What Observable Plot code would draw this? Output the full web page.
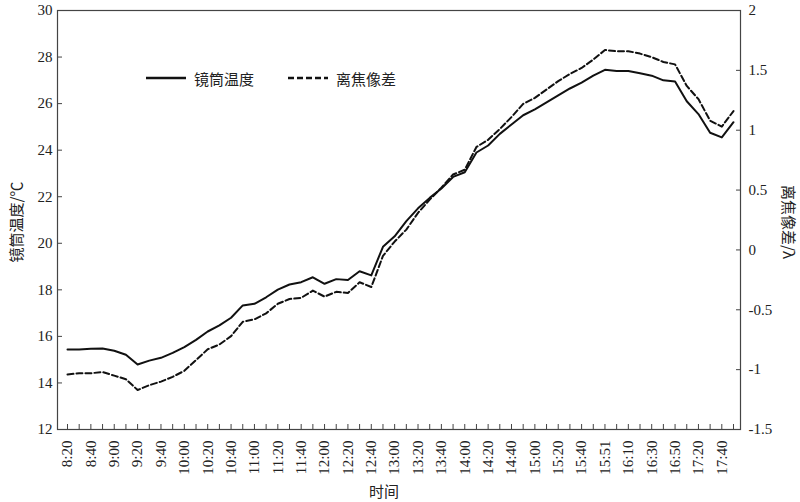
<!DOCTYPE html>
<html><head><meta charset="utf-8">
<script src="https://cdn.jsdelivr.net/npm/d3@7"></script>
<script src="https://cdn.jsdelivr.net/npm/@observablehq/plot@0.6"></script>
<style>
body{margin:0;background:#fff;}
#wrap{position:relative;width:800px;height:502px;}
.lbl{position:absolute;font-size:15px;color:#222;white-space:nowrap;font-family:"Noto Sans CJK SC","Liberation Serif",serif;line-height:1;}
.leg{position:absolute;display:flex;align-items:center;font-size:15px;color:#222;font-family:"Noto Sans CJK SC","Liberation Serif",serif;white-space:nowrap;}
.leg svg{margin-right:8px;}
</style></head><body><div id="wrap"></div>
<script>
const times = ["8:20","8:30","8:40","8:50","9:00","9:10","9:20","9:30","9:40","9:50",
  "10:00","10:10","10:20","10:30","10:40","10:50","11:00","11:10","11:20","11:30",
  "11:40","11:50","12:00","12:10","12:20","12:30","12:40","12:50","13:00","13:10",
  "13:20","13:30","13:40","13:50","14:00","14:10","14:20","14:30","14:40","14:50",
  "15:00","15:10","15:20","15:30","15:40","15:45","15:51","16:00","16:10","16:20",
  "16:30","16:40","16:50","17:05","17:20","17:30","17:40","17:50"];
const barrelTemp = [15.44,15.44,15.47,15.48,15.38,15.21,14.79,14.96,15.08,15.29,
  15.54,15.85,16.21,16.47,16.80,17.33,17.40,17.68,18.01,18.23,
  18.33,18.54,18.26,18.46,18.42,18.80,18.62,19.85,20.30,20.95,
  21.50,21.95,22.35,22.85,23.05,23.90,24.20,24.70,25.10,25.50,
  25.75,26.05,26.35,26.65,26.90,27.20,27.45,27.40,27.40,27.30,
  27.20,27.00,26.95,26.10,25.55,24.75,24.55,25.20];
const defocus = [-1.04,-1.03,-1.03,-1.02,-1.05,-1.08,-1.17,-1.13,-1.10,-1.06,
  -1.01,-0.92,-0.83,-0.79,-0.72,-0.60,-0.58,-0.53,-0.45,-0.41,
  -0.40,-0.34,-0.39,-0.35,-0.36,-0.27,-0.31,-0.05,0.07,0.17,
  0.31,0.42,0.52,0.63,0.67,0.86,0.92,1.01,1.11,1.22,
  1.27,1.34,1.41,1.47,1.52,1.59,1.67,1.66,1.66,1.64,
  1.61,1.57,1.55,1.37,1.26,1.08,1.03,1.16];
const tempTicks = [12,14,16,18,20,22,24,26,28,30];
const defocusTicks = [-1.5,-1,-0.5,0,0.5,1,1.5,2];
const tempDomain = [12,30];
const defocusDomain = [-1.5,2];
const seriesNames = ["镜筒温度","离焦像差"];
const xTitle = "时间";
const yLeftTitle = "镜筒温度/℃";
const yRightTitle = "离焦像差/λ";

const k = (tempDomain[1]-tempDomain[0])/(defocusDomain[1]-defocusDomain[0]);
const toLeft = v => tempDomain[0] + (v - defocusDomain[0]) * k;
const fromLeft = d => Math.round(((d - tempDomain[0]) / k + defocusDomain[0]) * 100) / 100;

const idx = times.map((_, i) => i);
const rows = times.map((t, i) => ({i, temp: barrelTemp[i], defocus: toLeft(defocus[i])}));

const chart = Plot.plot({
  width: 800, height: 502,
  marginLeft: 57, marginRight: 60, marginTop: 10, marginBottom: 73,
  style: {fontFamily: "'Liberation Serif', serif", fontSize: "15px", color: "#222", background: "transparent"},
  x: {type: "linear", domain: [-0.856, 57.6]},
  y: {domain: tempDomain},
  marks: [
    Plot.axisX(idx, {tickSize: 5, dy: -5, fill: "none", stroke: "#444", label: null}),
    Plot.axisX(idx.filter(i => i % 2 === 0), {tickSize: 0, tickPadding: 11, tickRotate: -90, tickFormat: i => times[i], label: null, fill: "#222"}),
    Plot.axisY(tempTicks, {anchor: "left", tickSize: 5, dx: 5, fill: "none", stroke: "#444", label: null}),
    Plot.axisY(tempTicks, {anchor: "left", tickSize: 0, tickPadding: 5, label: null, fill: "#222"}),
    Plot.axisY(defocusTicks.map(toLeft), {anchor: "right", tickSize: 5, dx: -5, fill: "none", stroke: "#444", label: null}),
    Plot.axisY(defocusTicks.map(toLeft), {anchor: "right", tickSize: 0, tickPadding: 8, tickFormat: d => String(fromLeft(d)), label: null, fill: "#222"}),
    Plot.frame({stroke: "#444", strokeWidth: 1.2}),
    Plot.line(rows, {x: "i", y: "temp", stroke: "#111", strokeWidth: 2}),
    Plot.line(rows, {x: "i", y: "defocus", stroke: "#111", strokeWidth: 2, strokeDasharray: "6,3"})
  ]
});

const wrap = document.getElementById("wrap");
wrap.appendChild(chart);

function addLabel(text, x, y, rot) {
  const d = document.createElement("div");
  d.className = "lbl";
  d.textContent = text;
  d.style.left = x + "px";
  d.style.top = y + "px";
  d.style.transform = "translate(-50%,-50%)" + (rot ? ` rotate(${rot}deg)` : "");
  wrap.appendChild(d);
}
addLabel(yLeftTitle, 15, 222, -90);
addLabel(yRightTitle, 789, 222, 90);
addLabel(xTitle, 384, 490, 0);

function addLegend(name, dash, x, y) {
  const d = document.createElement("div");
  d.className = "leg";
  d.style.left = x + "px";
  d.style.top = (y - 10) + "px";
  d.style.height = "20px";
  d.innerHTML = `<svg width="40" height="6"><line x1="0" y1="3" x2="40" y2="3" stroke="#111" stroke-width="2.4" ${dash ? 'stroke-dasharray="6,3"' : ''}/></svg><span>${name}</span>`;
  wrap.appendChild(d);
}
addLegend(seriesNames[0], false, 146, 78);
addLegend(seriesNames[1], true, 288, 78);
</script>
</body></html>
